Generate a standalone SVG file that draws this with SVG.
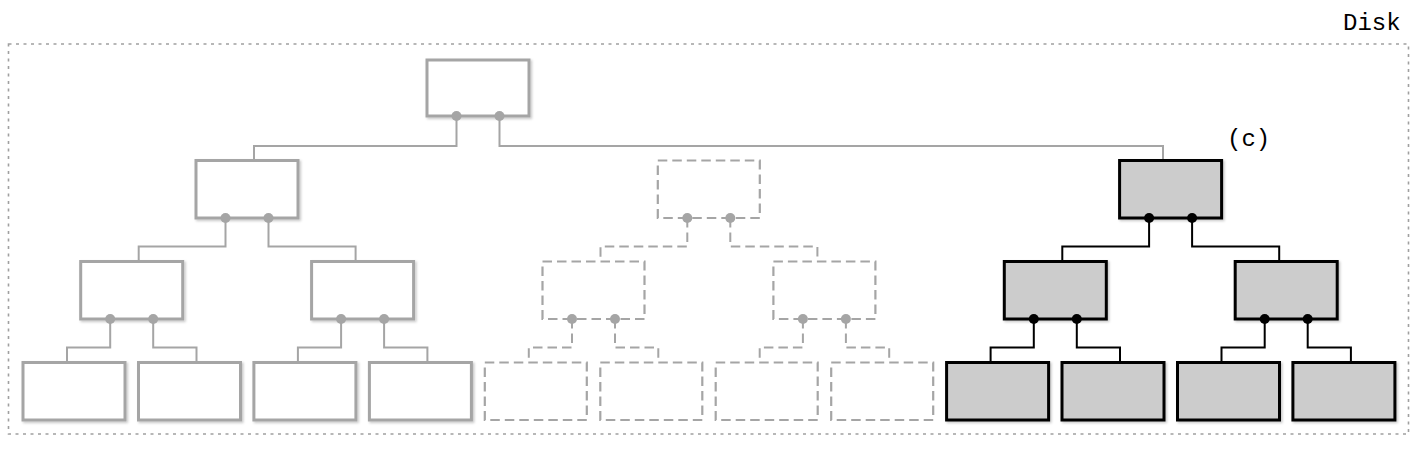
<svg xmlns="http://www.w3.org/2000/svg" width="1422" height="450" viewBox="0 0 1422 450">
<style>
.g{fill:#fff;stroke:#a5a5a5;stroke-width:3;filter:url(#sh)}
.d{fill:#fff;stroke:#a5a5a5;stroke-width:2.2;stroke-dasharray:9.5,5}
.b{fill:#cccccc;stroke:#000;stroke-width:3;filter:url(#sh)}
.gc{fill:none;stroke:#a5a5a5;stroke-width:2}
.dc{fill:none;stroke:#a5a5a5;stroke-width:2;stroke-dasharray:9.5,5}
.bc{fill:none;stroke:#000;stroke-width:2}
.gd{fill:#a5a5a5}
.bd{fill:#000}
.t{font-family:"Liberation Mono",monospace;font-size:24px;fill:#000}
</style>
<defs>
<filter id="sh" x="-10%" y="-10%" width="130%" height="140%">
<feDropShadow dx="1.5" dy="1.5" stdDeviation="1.2" flood-color="#000" flood-opacity="0.22"/>
</filter>
</defs>
<rect x="8.5" y="44" width="1400" height="390" fill="none" stroke="#a0a0a0" stroke-width="1.6" stroke-dasharray="3,4.5"/>
<text class="t" x="1343" y="30">Disk</text>
<text class="t" x="1227" y="146">(c)</text>
<g id="connectors">
<path class="gc" d="M456.5,116 V146 H254 V160.5"/>
<path class="gc" d="M499.5,116 V146 H1163 V160.5"/>
<path class="gc" d="M225.5,218 V246.5 H138.7 V261.5"/>
<path class="gc" d="M268.5,218 V246.5 H355.6 V261.5"/>
<path class="dc" d="M687.3,218 V246.5 H600.5 V261.5"/>
<path class="dc" d="M730.3,218 V246.5 H817.4 V261.5"/>
<path class="bc" d="M1149.1,218 V246.5 H1062.3 V261.5"/>
<path class="bc" d="M1192.1,218 V246.5 H1279.2 V261.5"/>
<path class="gc" d="M110.2,319 V347.5 H67 V362.5"/>
<path class="gc" d="M153.2,319 V347.5 H196.5 V362.5"/>
<path class="gc" d="M341.1,319 V347.5 H297.9 V362.5"/>
<path class="gc" d="M384.1,319 V347.5 H427.4 V362.5"/>
<path class="dc" d="M572,319 V347.5 H528.8 V362.5"/>
<path class="dc" d="M615,319 V347.5 H658.3 V362.5"/>
<path class="dc" d="M802.9,319 V347.5 H759.7 V362.5"/>
<path class="dc" d="M845.9,319 V347.5 H889.2 V362.5"/>
<path class="bc" d="M1033.8,319 V347.5 H990.6 V362.5"/>
<path class="bc" d="M1076.8,319 V347.5 H1120 V362.5"/>
<path class="bc" d="M1264.7,319 V347.5 H1221.5 V362.5"/>
<path class="bc" d="M1307.7,319 V347.5 H1350.9 V362.5"/>
</g>
<g id="root"><rect class="g" x="427" y="60" width="102" height="56"/><circle class="gd" cx="456.5" cy="116" r="5"/><circle class="gd" cx="499.5" cy="116" r="5"/></g>
<g id="n1a"><rect class="g" x="196" y="160.5" width="102" height="57.5"/><circle class="gd" cx="225.5" cy="218" r="5"/><circle class="gd" cx="268.5" cy="218" r="5"/></g>
<g id="n1b"><rect class="d" x="657.8" y="160.5" width="102" height="57.5"/><circle class="gd" cx="687.3" cy="218" r="5"/><circle class="gd" cx="730.3" cy="218" r="5"/></g>
<g id="n1c"><rect class="b" x="1119.6" y="160.5" width="102" height="57.5"/><circle class="bd" cx="1149.1" cy="218" r="5"/><circle class="bd" cx="1192.1" cy="218" r="5"/></g>
<g id="n2a"><rect class="g" x="80.7" y="261.5" width="102" height="57.5"/><circle class="gd" cx="110.2" cy="319" r="5"/><circle class="gd" cx="153.2" cy="319" r="5"/></g>
<g id="n2b"><rect class="g" x="311.6" y="261.5" width="102" height="57.5"/><circle class="gd" cx="341.1" cy="319" r="5"/><circle class="gd" cx="384.1" cy="319" r="5"/></g>
<g id="n2c"><rect class="d" x="542.5" y="261.5" width="102" height="57.5"/><circle class="gd" cx="572" cy="319" r="5"/><circle class="gd" cx="615" cy="319" r="5"/></g>
<g id="n2d"><rect class="d" x="773.4" y="261.5" width="102" height="57.5"/><circle class="gd" cx="802.9" cy="319" r="5"/><circle class="gd" cx="845.9" cy="319" r="5"/></g>
<g id="n2e"><rect class="b" x="1004.3" y="261.5" width="102" height="57.5"/><circle class="bd" cx="1033.8" cy="319" r="5"/><circle class="bd" cx="1076.8" cy="319" r="5"/></g>
<g id="n2f"><rect class="b" x="1235.2" y="261.5" width="102" height="57.5"/><circle class="bd" cx="1264.7" cy="319" r="5"/><circle class="bd" cx="1307.7" cy="319" r="5"/></g>
<g id="n3a"><rect class="g" x="23" y="362.5" width="102" height="57.5"/></g>
<g id="n3b"><rect class="g" x="138.5" y="362.5" width="102" height="57.5"/></g>
<g id="n3c"><rect class="g" x="253.9" y="362.5" width="102" height="57.5"/></g>
<g id="n3d"><rect class="g" x="369.4" y="362.5" width="102" height="57.5"/></g>
<g id="n3e"><rect class="d" x="484.8" y="362.5" width="102" height="57.5"/></g>
<g id="n3f"><rect class="d" x="600.3" y="362.5" width="102" height="57.5"/></g>
<g id="n3g"><rect class="d" x="715.7" y="362.5" width="102" height="57.5"/></g>
<g id="n3h"><rect class="d" x="831.2" y="362.5" width="102" height="57.5"/></g>
<g id="n3i"><rect class="b" x="946.6" y="362.5" width="102" height="57.5"/></g>
<g id="n3j"><rect class="b" x="1062" y="362.5" width="102" height="57.5"/></g>
<g id="n3k"><rect class="b" x="1177.5" y="362.5" width="102" height="57.5"/></g>
<g id="n3l"><rect class="b" x="1292.9" y="362.5" width="102" height="57.5"/></g>
</svg>
